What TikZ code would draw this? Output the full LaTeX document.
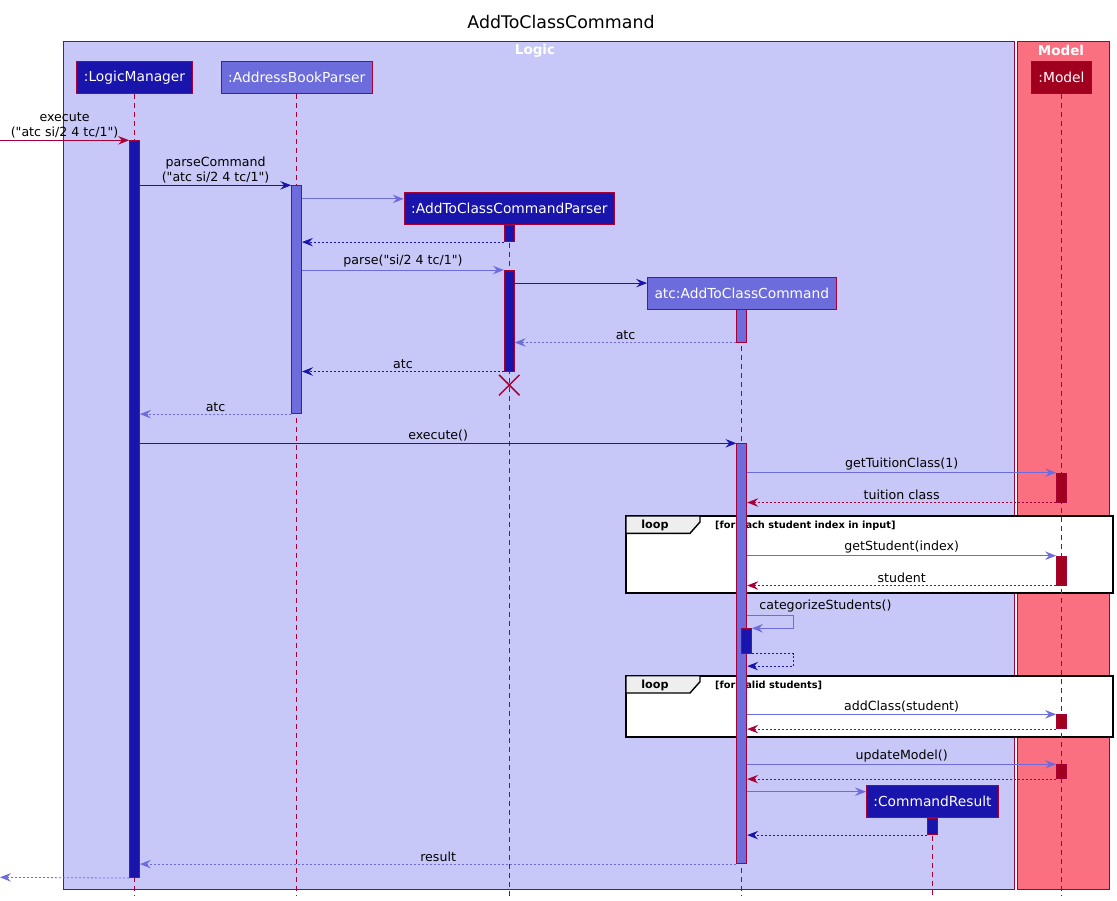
\documentclass[tikz,border=0pt]{standalone}
\usepackage{fontspec}
\newfontfamily\seqfont{DejaVu Sans}
\usetikzlibrary{arrows.meta,shapes.misc}
\definecolor{logicbg}{RGB}{200,200,248}
\definecolor{modelbg}{RGB}{250,112,128}
\definecolor{crim}{RGB}{168,0,54}
\definecolor{dblue}{RGB}{24,20,172}
\definecolor{mblue}{RGB}{108,108,220}
\definecolor{mred}{RGB}{160,0,30}
\definecolor{tabgray}{RGB}{238,238,238}

\begin{document}
\begin{tikzpicture}[x=1pt,y=-1pt,
  lane/.style={draw=crim,line width=0.8pt,fill=#1},
  part/.style={rectangle,draw=crim,line width=0.8pt,fill=#1,text=white,minimum height=32pt,inner xsep=7pt,font=\seqfont\fontsize{13.8}{16}\selectfont},
  act/.style={rectangle,draw=crim,line width=0.8pt,fill=#1,minimum width=10pt,inner sep=0pt,anchor=north},
  life/.style={crim,line width=0.8pt,dash pattern=on 5pt off 4pt},
  seqtip/.style={-{Stealth[length=11pt,width=8.5pt,inset=4pt]}},
  call/.style={seqtip,line width=0.8pt,draw=#1},
  ret/.style={seqtip,line width=0.8pt,draw=#1,dash pattern=on 2pt off 2pt},
  msgfont/.style={text=black,font=\seqfont\fontsize{12.6}{15}\selectfont,inner sep=2pt},
  lbl/.style={msgfont,midway,above=0pt,align=center},
  loopframe/.style={draw=black,line width=1.6pt,fill=white}]
\useasboundingbox (0,0) rectangle (1117,901);

% lanes
\draw[lane=logicbg] (63.6,41.3) rectangle (1014.6,889.3);
\draw[lane=modelbg] (1017,41.3) rectangle (1109,889.3);
\node[font=\seqfont\fontsize{17.4}{20}\selectfont] (title) at (561,22) {AddToClassCommand};
\node[text=white,font=\seqfont\bfseries\fontsize{13.5}{16}\selectfont] (logic) at (535,50.7) {Logic};
\node[text=white,font=\seqfont\bfseries\fontsize{13.5}{16}\selectfont] (modellane) at (1061,50.7) {Model};

% loop frames
\foreach \ya/\yb/\grd in {516/592.7/{[for each student index in input]},675.7/736.7/{[for valid students]}} {
  \draw[loopframe] (626,\ya) rectangle (1112.7,\yb);
  \filldraw[fill=tabgray,draw=black,line width=1.4pt] (626,\ya) -- (700,\ya) -- (700,\ya+6) -- (690,\ya+17.3) -- (626,\ya+17.3) -- cycle;
  \node[font=\seqfont\bfseries\fontsize{11.2}{13}\selectfont] at (655,\ya+9.5) {loop};
  \node[anchor=west,inner sep=0pt,font=\seqfont\bfseries\fontsize{9.8}{12}\selectfont] at (715,\ya+9.5) {\grd};
}

% participants
\node[part=dblue] (lm) at (134.5,77.7) {:LogicManager};
\node[part=mblue] (abp) at (296.8,77.7) {:AddressBookParser};
\node[part=mred] (model) at (1061.5,77.7) {:Model};
\node[part=dblue] (parser) at (509.3,208.7) {:AddToClassCommandParser};
\node[part=mblue] (atc) at (741.8,293.5) {atc:AddToClassCommand};
\node[part=dblue] (cr) at (932.5,801.8) {:CommandResult};
\coordinate (bot) at (0,896);
\coordinate (in) at (0,140.3);
\coordinate (out) at (0,877.3);
\foreach \p in {lm,abp,parser,atc,cr,model}
  \draw[life] (\p.south) -- (\p.south |- bot);

% activations
\node[act=dblue,minimum height=737] (actLM) at (134.5,140.3) {};
\node[act=mblue,minimum height=228] (actABP) at (296.6,185.3) {};
\node[act=dblue,minimum height=16.6] (actP1) at (509.3,224.7) {};
\node[act=dblue,minimum height=100.7] (actP2) at (509.3,270) {};
\node[act=mblue,minimum height=33] (actATC1) at (741.8,308.7) {};
\node[act=mblue,minimum height=420] (actATC2) at (741.8,443.3) {};
\node[act=dblue,minimum height=24.4] (actCat) at (746.5,628.3) {};
\node[act=dblue,minimum height=16.6] (actCR) at (932.5,817.7) {};
\foreach \n/\ya/\yb in {1/472.7/501.7,2/555.7/584.7,3/714.3/728.3,4/764.3/778.3}
  \node[act=mred,minimum height=\yb-\ya] (actM\n) at (1061.5,\ya) {};

% messages
\draw[call=crim] (in) -- (actLM.north west) node[lbl] {execute\\("atc si/2 4 tc/1")};
\draw[call=dblue] (actABP.north west -| actLM.east) -- (actABP.north west) node[lbl] {parseCommand\\("atc si/2 4 tc/1")};
\draw[call=mblue] ([yshift=-6.6pt]parser.north west -| actABP.east) -- ([yshift=-6.6pt]parser.north west);
\draw[ret=dblue] (actP1.south west) -- (actP1.south west -| actABP.east);
\draw[call=mblue] (actP2.north west -| actABP.east) -- (actP2.north west) node[lbl] {parse("si/2 4 tc/1")};
\draw[call=dblue] ([yshift=-6pt]atc.north west -| actP2.east) -- ([yshift=-6pt]atc.north west);
\draw[ret=mblue] (actATC1.south west) -- (actATC1.south west -| actP2.east) node[lbl] {atc};
\draw[ret=dblue] (actP2.south west) -- (actP2.south west -| actABP.east) node[lbl] {atc};
\node[cross out,draw=crim,line width=1.5pt,minimum size=19pt,inner sep=0pt] (kill) at ([yshift=-13.6pt]actP2.south) {};
\draw[ret=mblue] (actABP.south west) -- (actABP.south west -| actLM.east) node[lbl] {atc};
\draw[call=dblue] (actATC2.north west -| actLM.east) -- (actATC2.north west) node[lbl] {execute()};
\foreach \m/\msg/\back in {actM1/getTuitionClass(1)/tuition class,actM2/getStudent(index)/student,actM3/addClass(student)/,actM4/updateModel()/} {
  \draw[call=mblue] (\m.north west -| actATC2.east) -- (\m.north west) node[lbl] {\msg};
  \draw[ret=crim] (\m.south west) -- (\m.south west -| actATC2.east) node[lbl] {\back};
}
\draw[call=mblue] ([yshift=13pt]actCat.north -| actATC2.east) coordinate (self) -- ++(46.3,0) -- ++(0,13) -- (actCat.north east);
\node[msgfont,anchor=south west] (catlbl) at ([xshift=10pt,yshift=1pt]self) {categorizeStudents()};
\draw[ret=dblue] (actCat.south east) -- ++(41.6,0) -- ++(0,12.6) -- ++(-46.3,0);
\draw[call=mblue] ([yshift=-6.3pt]cr.north west -| actATC2.east) -- ([yshift=-6.3pt]cr.north west);
\draw[ret=dblue] (actCR.south west) -- (actCR.south west -| actATC2.east);
\draw[ret=mblue] (actATC2.south west) -- (actATC2.south west -| actLM.east) node[lbl] {result};
\draw[ret=mblue] (actLM.south west) -- (out);
\end{tikzpicture}
\end{document}
